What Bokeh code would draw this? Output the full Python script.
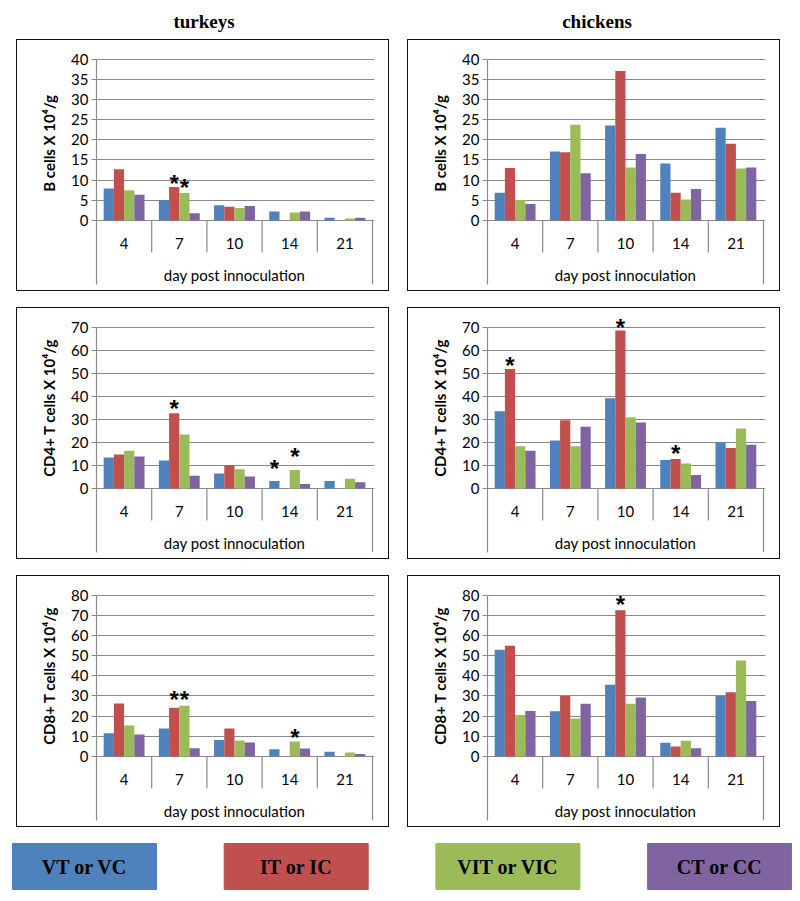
import math
from bokeh.plotting import figure
from bokeh.models import Range1d, FixedTicker, Title, Spacer
from bokeh.layouts import column, row
from bokeh.embed import file_html
from bokeh.resources import INLINE
from bokeh.core.properties import value

# ---------------- data ----------------
days = ["4", "7", "10", "14", "21"]
series = ["VT or VC", "IT or IC", "VIT or VIC", "CT or CC"]
colors = ["#4F81BD", "#C0504D", "#9BBB59", "#8064A2"]
species = ["turkeys", "chickens"]

# B cells (x 10^4/g)
turkey_b_vt = [7.9, 5.0, 3.8, 2.2, 0.7]
turkey_b_it = [12.7, 8.3, 3.4, 0.0, 0.0]
turkey_b_vit = [7.5, 6.8, 3.1, 2.0, 0.5]
turkey_b_ct = [6.4, 1.8, 3.6, 2.2, 0.7]

chicken_b_vc = [6.9, 17.1, 23.5, 14.1, 23.0]
chicken_b_ic = [13.0, 16.9, 37.0, 6.9, 19.0]
chicken_b_vic = [5.1, 23.7, 13.1, 5.2, 12.9]
chicken_b_cc = [4.1, 11.7, 16.5, 7.8, 13.1]

# CD4+ T cells
turkey_cd4_vt = [13.4, 12.1, 6.5, 3.3, 3.3]
turkey_cd4_it = [14.7, 32.6, 10.1, 0.0, 0.0]
turkey_cd4_vit = [16.4, 23.4, 8.3, 8.0, 4.2]
turkey_cd4_ct = [13.9, 5.5, 5.2, 2.0, 2.7]

chicken_cd4_vc = [33.5, 20.8, 39.1, 12.3, 20.1]
chicken_cd4_ic = [51.8, 29.6, 68.5, 12.8, 17.6]
chicken_cd4_vic = [18.3, 18.3, 30.9, 10.8, 26.0]
chicken_cd4_cc = [16.4, 26.8, 28.6, 5.8, 19.0]

# CD8+ T cells
turkey_cd8_vt = [11.5, 13.9, 8.2, 3.6, 2.3]
turkey_cd8_it = [26.2, 24.1, 13.9, 0.0, 0.0]
turkey_cd8_vit = [15.3, 25.2, 7.9, 7.4, 2.0]
turkey_cd8_ct = [10.9, 4.1, 6.9, 4.0, 1.3]

chicken_cd8_vc = [52.9, 22.4, 35.6, 6.8, 30.0]
chicken_cd8_ic = [54.9, 30.0, 72.4, 4.9, 31.8]
chicken_cd8_vic = [20.5, 18.8, 26.1, 7.8, 47.5]
chicken_cd8_cc = [22.6, 26.1, 29.2, 4.1, 27.5]

# significance markers: day, series index, height of the asterisk
turkey_b_star_day = ["7", "7"]
turkey_b_star_ser = [1, 2]
turkey_b_star_y = [9.9, 9.0]

chicken_b_star_day = []
chicken_b_star_ser = []
chicken_b_star_y = []

turkey_cd4_star_day = ["7", "14", "14"]
turkey_cd4_star_ser = [1, 0, 2]
turkey_cd4_star_y = [35.9, 9.8, 15.1]

chicken_cd4_star_day = ["4", "10", "14"]
chicken_cd4_star_ser = [1, 1, 1]
chicken_cd4_star_y = [54.7, 70.9, 16.3]

turkey_cd8_star_day = ["7", "7", "14"]
turkey_cd8_star_ser = [1, 2, 2]
turkey_cd8_star_y = [29.5, 29.5, 11.1]

chicken_cd8_star_day = ["10"]
chicken_cd8_star_ser = [1]
chicken_cd8_star_y = [76.7]

y_labels = ["B cells X 10\u2074/g", "CD4+ T cells X 10\u2074/g", "CD8+ T cells X 10\u2074/g"]
y_tops = [40, 70, 80]
y_steps = [5, 10, 10]
x_title = "day post innoculation"

# ---------------- layout constants ----------------
CW, CH = 373, 252          # canvas of each panel (inside 1px css border)
FL, FR, FT, FB = 79, 16, 8, 8
FRAME_W = CW - FL - FR     # 278
PX_X = 55.2                # px per category
TOP_PX = 18.5              # top tick line from canvas top
ZERO_PX = 180.0            # zero line from canvas top
LABEL_CY = 100.0           # vertical centre of the y label (canvas px)
GRAY = "#8a8a8a"
BAR_W = 0.185


def panel(vals, top, step, ylabel, star_day, star_ser, star_y):
    ppu = (ZERO_PX - TOP_PX) / top
    y_end = top + (TOP_PX - FT) / ppu
    y_start = -((CH - FB) - ZERO_PX) / ppu
    x_end = 0.5 + FRAME_W / PX_X
    p = figure(width=CW, height=CH,
               x_range=Range1d(0.5, x_end), y_range=Range1d(y_start, y_end),
               x_axis_location=None, y_axis_location="left",
               toolbar_location=None, output_backend="svg",
               min_border_left=FL, min_border_right=FR,
               min_border_top=FT, min_border_bottom=FB,
               outline_line_color=None,
               styles={"border": "1px solid #111"})
    ax = p.yaxis[0]
    ax.ticker = FixedTicker(ticks=list(range(0, top + 1, step)))
    ax.bounds = (y_start, top)
    ax.axis_line_color = GRAY
    ax.axis_line_width = 1.2
    ax.major_tick_line_color = GRAY
    ax.major_tick_out = 5
    ax.major_tick_in = 0
    ax.minor_tick_line_color = None
    ax.major_label_text_font = "Lato"
    ax.major_label_text_font_size = "15px"
    ax.major_label_text_color = "#000000"
    ax.major_label_standoff = 3
    p.xgrid.visible = False
    p.ygrid.grid_line_color = GRAY
    p.ygrid.grid_line_width = 1.2

    xs = [i + 1 for i in range(len(days))]
    for si in range(4):
        p.vbar(x=[x + (si - 1.5) * BAR_W for x in xs], top=vals[si], bottom=0,
               width=BAR_W, fill_color=colors[si], line_color=None)

    # category separators and outer bracket
    sep_y = -(212 - ZERO_PX) / ppu
    p.segment(x0=[1.5, 2.5, 3.5, 4.5], y0=[0] * 4, x1=[1.5, 2.5, 3.5, 4.5],
              y1=[sep_y] * 4, line_color=GRAY, line_width=1.2)
    p.segment(x0=[5.5], y0=[0], x1=[5.5], y1=[y_start], line_color=GRAY, line_width=1.2)

    cat_y = -(203 - ZERO_PX) / ppu
    p.text(x=xs, y=[cat_y] * len(xs), text=days, text_align="center",
           text_baseline="middle", text_font=value("Lato"),
           text_font_size="15px", text_color="#000000")
    xl_y = -(234 - ZERO_PX) / ppu
    p.text(x=[3], y=[xl_y], text=[x_title], text_align="center",
           text_baseline="middle", text_font=value("Lato"),
           text_font_size="15px", text_color="#000000")

    if star_day:
        sx = [days.index(d) + 1 + (s - 1.5) * BAR_W for d, s in zip(star_day, star_ser)]
        p.text(x=sx, y=star_y, text=["*"] * len(sx), text_align="center",
               text_baseline="middle", y_offset=3,
               text_font=value("Liberation Sans"), text_font_style="bold",
               text_font_size="24px", text_color="#000000")

    est_len = 6.83 * len(ylabel)
    off = (CH - FB) - LABEL_CY - est_len / 2
    t = Title(text=ylabel, align="left", offset=off, standoff=22,
              text_font="Lato", text_font_style="bold",
              text_font_size="15px", text_color="#000000")
    p.add_layout(t, "left")
    return p


tb = panel([turkey_b_vt, turkey_b_it, turkey_b_vit, turkey_b_ct], y_tops[0], y_steps[0],
           y_labels[0], turkey_b_star_day, turkey_b_star_ser, turkey_b_star_y)
cb = panel([chicken_b_vc, chicken_b_ic, chicken_b_vic, chicken_b_cc], y_tops[0], y_steps[0],
           y_labels[0], chicken_b_star_day, chicken_b_star_ser, chicken_b_star_y)
t4 = panel([turkey_cd4_vt, turkey_cd4_it, turkey_cd4_vit, turkey_cd4_ct], y_tops[1], y_steps[1],
           y_labels[1], turkey_cd4_star_day, turkey_cd4_star_ser, turkey_cd4_star_y)
c4 = panel([chicken_cd4_vc, chicken_cd4_ic, chicken_cd4_vic, chicken_cd4_cc], y_tops[1], y_steps[1],
           y_labels[1], chicken_cd4_star_day, chicken_cd4_star_ser, chicken_cd4_star_y)
t8 = panel([turkey_cd8_vt, turkey_cd8_it, turkey_cd8_vit, turkey_cd8_ct], y_tops[2], y_steps[2],
           y_labels[2], turkey_cd8_star_day, turkey_cd8_star_ser, turkey_cd8_star_y)
c8 = panel([chicken_cd8_vc, chicken_cd8_ic, chicken_cd8_vic, chicken_cd8_cc], y_tops[2], y_steps[2],
           y_labels[2], chicken_cd8_star_day, chicken_cd8_star_ser, chicken_cd8_star_y)

# header with column titles
W = 792
header = figure(width=W, height=39, x_range=Range1d(0, W), y_range=Range1d(39, 0),
                x_axis_location=None, y_axis_location=None, toolbar_location=None,
                output_backend="svg", min_border=0, outline_line_color=None)
header.xgrid.visible = False
header.ygrid.visible = False
header.text(x=[203.5, 596.5], y=[21, 21], text=species, text_align="center",
            text_baseline="middle", text_font=value("Liberation Serif"),
            text_font_style="bold", text_font_size="19px", text_color="#000000")

# legend boxes
legend = figure(width=W, height=64, x_range=Range1d(0, W), y_range=Range1d(64, 0),
                x_axis_location=None, y_axis_location=None, toolbar_location=None,
                output_backend="svg", min_border=0, outline_line_color=None)
legend.xgrid.visible = False
legend.ygrid.visible = False
lefts = [12 + i * 211.7 for i in range(len(series))]
legend.quad(left=lefts, right=[l + 144 for l in lefts], top=[14] * 4, bottom=[60] * 4,
            fill_color=colors, line_color=colors, line_width=1)
legend.text(x=[l + 72 for l in lefts], y=[37.5] * 4, text=series, text_align="center",
            text_baseline="middle", text_font=value("Liberation Serif"),
            text_font_style="bold", text_font_size="20px", text_color="#000000")

layout = column(
    header,
    row(Spacer(width=16, height=254), tb, Spacer(width=18, height=254), cb),
    Spacer(width=W, height=14),
    row(Spacer(width=16, height=254), t4, Spacer(width=18, height=254), c4),
    Spacer(width=W, height=14),
    row(Spacer(width=16, height=254), t8, Spacer(width=18, height=254), c8),
    legend,
)

open("out.html", "w").write(file_html(layout, INLINE))
